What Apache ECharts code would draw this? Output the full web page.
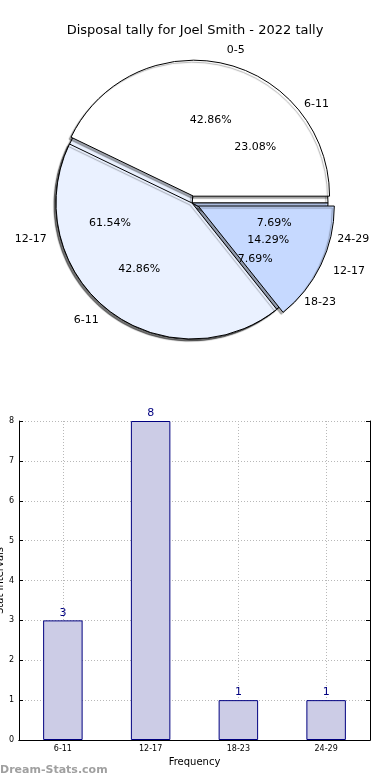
<!DOCTYPE html>
<html><head><meta charset="utf-8">
<script src="https://cdn.jsdelivr.net/npm/echarts@6/dist/echarts.min.js"></script>
<style>html,body{margin:0;padding:0;background:#fff}#c{width:390px;height:780px}</style>
</head><body><div id="c"></div>
<script>
const chartTitle = 'Disposal tally for Joel Smith - 2022 tally';
const watermark = 'Dream-Stats.com';
// Lower pie (drawn first)
const pieACats = ['6-11', '12-17', '18-23', '24-29'];
const pieAValues = [3, 8, 1, 1];
const pieAColors = ['#ffffff', '#eaf1ff', '#d8e5ff', '#c6d9ff'];
// Upper pie (drawn on top)
const pieBCats = ['0-5', '6-11', '12-17'];
const pieBValues = [3, 3, 1];
const pieBColors = ['#ffffff', '#eaf1ff', '#c6d9ff'];
const pieBExploded = [true, false, true];
// Bar chart
const barCats = ['6-11', '12-17', '18-23', '24-29'];
const barValues = [3, 8, 1, 1];
const yMin = 0, yMax = 8, yStep = 1;

const FONT = 'DejaVu Sans';
const C = [192, 203];
const R = 136;
const sum = a => a.reduce((s, v) => s + v, 0);

function basePie(cats, vals, cols, exploded) {
  return {
    type: 'pie', center: C, radius: R, startAngle: 0, clockwise: false,
    avoidLabelOverlap: false, silent: true, animation: false,
    selectedMode: exploded ? 'multiple' : false, selectedOffset: 7,
    data: cats.map((n, i) => ({
      name: n, value: vals[i], selected: exploded ? exploded[i] : false,
      itemStyle: { color: cols[i] }
    })),
    itemStyle: {
      borderColor: '#000', borderWidth: 1,
      shadowColor: 'rgba(0,0,0,0.32)', shadowOffsetX: -2, shadowOffsetY: 2, shadowBlur: 1
    },
    label: { show: true, position: 'outside', formatter: '{b}', color: '#000',
      fontSize: 11, fontFamily: FONT, distanceToLabelLine: 0 },
    labelLine: { show: false, length: R * 0.1, length2: 0 },
    emphasis: { disabled: true }
  };
}
function pctPie(cats, vals) {
  const tot = sum(vals);
  return {
    type: 'pie', center: C, radius: R * 1.2, startAngle: 0, clockwise: false,
    avoidLabelOverlap: false, silent: true, animation: false,
    data: cats.map((n, i) => ({ name: n, value: vals[i] })),
    itemStyle: { color: 'rgba(0,0,0,0)', borderWidth: 0 },
    label: { show: true, position: 'inside', color: '#000', fontSize: 11, fontFamily: FONT,
      formatter: p => (p.value / tot * 100).toFixed(2) + '%' },
    labelLine: { show: false },
    emphasis: { disabled: true }
  };
}

const chart = echarts.init(document.getElementById('c'), null, { renderer: 'canvas' });
const dotted = { color: '#b8b8b8', width: 1, type: [1, 2] };
chart.setOption({
  animation: false,
  backgroundColor: '#fff',
  textStyle: { fontFamily: FONT },
  title: [
    { text: chartTitle, left: 'center', top: 24, padding: 0,
      textStyle: { fontSize: 13, fontWeight: 'normal', color: '#000', fontFamily: FONT } },
    { text: watermark, left: 0, bottom: 4, padding: 0,
      textStyle: { fontSize: 11, fontWeight: 'bold', color: '#a0a0a0', fontFamily: FONT } }
  ],
  grid: { left: 19, right: 20, top: 421, bottom: 40, containLabel: false, outerBoundsMode: 'none' },
  xAxis: [
    { type: 'category', data: barCats, position: 'bottom',
      axisLine: { lineStyle: { color: '#000', width: 1 } },
      axisTick: { inside: true, alignWithLabel: true, length: 4, lineStyle: { color: '#000' } },
      axisLabel: { fontSize: 8, color: '#000', margin: 5, fontFamily: FONT },
      splitLine: { show: true, alignWithLabel: true, lineStyle: dotted },
      name: 'Frequency', nameLocation: 'middle', nameGap: 17, nameMoveOverlap: false,
      nameTextStyle: { fontSize: 10, color: '#000', fontFamily: FONT } },
    { type: 'category', data: barCats, position: 'top',
      axisLine: { show: true, lineStyle: { color: '#000', width: 1 } },
      axisTick: { inside: true, alignWithLabel: true, length: 4, lineStyle: { color: '#000' } },
      axisLabel: { show: false }, splitLine: { show: false } }
  ],
  yAxis: [
    { type: 'value', min: yMin, max: yMax, interval: yStep, position: 'left',
      axisLine: { show: true, lineStyle: { color: '#000', width: 1 } },
      axisTick: { show: true, inside: true, length: 4, lineStyle: { color: '#000' } },
      axisLabel: { fontSize: 8, color: '#000', margin: 5, fontFamily: FONT },
      splitLine: { show: true, lineStyle: dotted },
      name: 'Stat Intervals', nameLocation: 'middle', nameGap: 14, nameMoveOverlap: false,
      nameTextStyle: { fontSize: 10, color: '#000', fontFamily: FONT } },
    { type: 'value', min: yMin, max: yMax, interval: yStep, position: 'right',
      axisLine: { show: true, lineStyle: { color: '#000', width: 1 } },
      axisTick: { show: true, inside: true, length: 4, lineStyle: { color: '#000' } },
      axisLabel: { show: false }, splitLine: { show: false } }
  ],
  series: [
    basePie(pieACats, pieAValues, pieAColors, null),
    basePie(pieBCats, pieBValues, pieBColors, pieBExploded),
    pctPie(pieACats, pieAValues),
    pctPie(pieBCats, pieBValues),
    { type: 'bar', xAxisIndex: 0, yAxisIndex: 0, data: barValues, barWidth: '45%',
      itemStyle: { color: '#ccccE6', borderColor: '#000080', borderWidth: 1 },
      label: { show: true, position: 'top', color: '#000080', fontSize: 11, distance: 2, fontFamily: FONT },
      silent: true }
  ]
});
</script></body></html>
